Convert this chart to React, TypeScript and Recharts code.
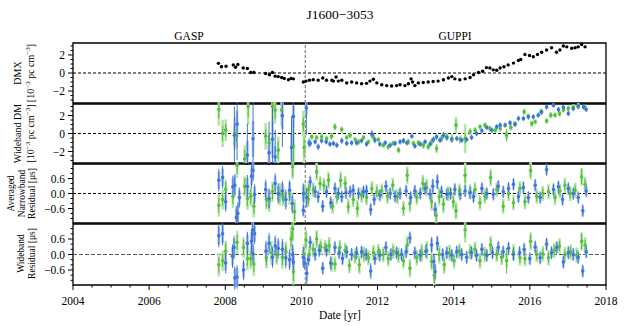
import React from "react";
import { ScatterChart, Scatter, XAxis, YAxis, ErrorBar, ReferenceLine, ReferenceArea } from "recharts";

type Pt = [number, number, number, number];

const FONT = '"Liberation Serif", "Times New Roman", "DejaVu Serif", serif';
const BLUE = "#3d78d8";
const BLUE_PALE = "#a6c0ef";
const BLUE_DARK = "#2f66cc";
const GREEN = "#55c23b";
const GREEN_PALE = "#b2e5a5";
const GREEN_DARK = "#45b530";

const xMajor = [2004, 2006, 2008, 2010, 2012, 2014, 2016, 2018];
const xTicks = [
  2004, 2004.5, 2005, 2005.5, 2006, 2006.5, 2007, 2007.5, 2008, 2008.5, 2009, 2009.5, 2010, 2010.5,
  2011, 2011.5, 2012, 2012.5, 2013, 2013.5, 2014, 2014.5, 2015, 2015.5, 2016, 2016.5, 2017, 2017.5, 2018,
];
const dmTicks = [-3, -2.5, -2, -1.5, -1, -0.5, 0, 0.5, 1, 1.5, 2, 2.5, 3];
const dmMajor = [-2, 0, 2];
const resTicks = [-1, -0.8, -0.6, -0.4, -0.2, 0, 0.2, 0.4, 0.6, 0.8, 1];
const resMajor = [-0.6, 0, 0.6];
const backendSwitch = 2010.1;

// DMX [year, value]
const dmx: [number, number][] = [
  [2007.82, 1.07], [2007.9, 0.7], [2008.02, 0.75], [2008.21, 0.9], [2008.27, 0.63], [2008.33, 0.95],
  [2008.47, 0.55], [2008.58, 0.5], [2008.67, 0.05], [2008.75, 0.05], [2009.06, -0.05], [2009.16, -0.2],
  [2009.24, 0.05], [2009.31, -0.35], [2009.39, -0.4], [2009.48, -0.5], [2009.55, -0.6], [2009.66, -0.75],
  [2009.73, -0.6], [2009.79, -0.65], [2010.05, -1.0], [2010.12, -0.9], [2010.21, -0.8], [2010.31, -0.75],
  [2010.44, -0.8], [2010.56, -0.55], [2010.66, -0.8], [2010.8, -0.8], [2010.84, -0.9], [2010.91, -0.45],
  [2010.97, -0.9], [2011.06, -0.8], [2011.19, -1.1], [2011.32, -1.0], [2011.45, -1.1], [2011.58, -1.2],
  [2011.71, -1.15], [2011.8, -0.9], [2011.89, -0.7], [2011.98, -1.1], [2012.11, -1.3], [2012.24, -1.4],
  [2012.37, -1.45], [2012.5, -1.4], [2012.59, -1.3], [2012.72, -1.4], [2012.81, -1.2], [2012.88, -0.65],
  [2012.92, -1.0], [2012.98, -1.4], [2013.07, -1.1], [2013.2, -1.05], [2013.33, -1.0], [2013.46, -0.95],
  [2013.59, -0.9], [2013.73, -0.75], [2013.86, -0.55], [2013.95, -0.4], [2014.03, -0.65], [2014.16, -0.75],
  [2014.3, -0.65], [2014.43, -0.5], [2014.52, -0.2], [2014.65, 0.05], [2014.76, 0.2], [2014.86, 0.6],
  [2014.95, 0.55], [2015.04, 0.35], [2015.13, 0.3], [2015.22, 0.55], [2015.32, 0.7], [2015.43, 0.9],
  [2015.57, 1.1], [2015.7, 1.4], [2015.76, 1.5], [2015.87, 2.05], [2015.99, 1.95], [2016.09, 1.8],
  [2016.2, 2.05], [2016.31, 2.3], [2016.44, 2.55], [2016.57, 2.8], [2016.7, 2.3], [2016.79, 2.55],
  [2016.88, 3.0], [2016.97, 2.9], [2017.1, 2.75], [2017.19, 2.8], [2017.27, 2.9], [2017.36, 3.15], [2017.45, 2.9],
];

// wideband DM [year, value, pale err, dark err]
const wbDmGreen: Pt[] = [
  [2007.83, 2.67, 1.8, 1.0], [2007.93, 0.0, 1.5, 0.8], [2008.01, 0.37, 1.2, 0.7], [2008.25, 0.0, 1.8, 1.0],
  [2008.29, -0.07, 1.5, 0.9], [2008.51, -2.8, 1.5, 1.0], [2008.6, 3.0, 2.0, 1.2], [2009.06, -0.3, 1.5, 0.8],
  [2009.15, -1.04, 1.2, 0.8], [2009.24, 3.0, 2.0, 1.5], [2009.31, 2.6, 1.5, 1.0], [2009.39, -1.85, 1.5, 1.0],
  [2009.48, 2.6, 1.8, 1.2], [2009.79, -1.4, 2.5, 2.0], [2010.05, 1.04, 1.5, 0.8], [2010.07, -1.55, 1.8, 1.0],
  [2010.27, -0.37, 0.35, 0.25], [2010.4, -0.44, 0.3, 0.2], [2010.53, -0.37, 0.35, 0.25], [2010.66, -0.56, 0.3, 0.2],
  [2010.79, -0.3, 0.4, 0.3], [2010.88, 0.74, 0.4, 0.3], [2011.06, 0.44, 0.35, 0.25], [2011.19, -0.44, 0.3, 0.2],
  [2011.28, -0.19, 0.35, 0.25], [2011.41, -0.67, 0.3, 0.2], [2011.5, -0.93, 0.35, 0.25], [2011.63, -0.44, 0.3, 0.2],
  [2011.76, -0.93, 0.3, 0.2], [2011.89, -0.37, 0.35, 0.25], [2012.02, -0.67, 0.3, 0.2], [2012.15, -1.3, 0.3, 0.2],
  [2012.28, -1.48, 0.35, 0.25], [2012.41, -1.1, 0.3, 0.2], [2012.55, -1.85, 0.35, 0.25], [2012.68, -0.8, 0.3, 0.2],
  [2012.81, -0.93, 0.35, 0.25], [2012.94, -1.1, 0.3, 0.2], [2013.07, -1.04, 0.35, 0.25], [2013.2, -1.3, 0.4, 0.3],
  [2013.33, -1.48, 0.35, 0.25], [2013.42, -0.93, 0.4, 0.3], [2013.55, -1.67, 0.5, 0.35], [2013.68, -0.56, 0.4, 0.3],
  [2013.82, -0.37, 0.45, 0.3], [2013.95, -0.56, 0.5, 0.35], [2014.06, 0.93, 0.9, 0.5], [2014.17, -0.67, 0.45, 0.3],
  [2014.3, -0.56, 1.6, 0.6], [2014.43, 0.19, 0.4, 0.3], [2014.56, 0.37, 0.35, 0.25], [2014.69, 0.74, 0.3, 0.2],
  [2014.82, 0.93, 0.3, 0.2], [2014.95, 0.56, 0.35, 0.25], [2015.09, 0.37, 0.3, 0.2], [2015.22, 0.56, 0.35, 0.25],
  [2015.39, -0.19, 0.45, 0.7], [2015.5, 0.67, 0.35, 0.25], [2015.61, 1.04, 0.3, 0.2], [2015.85, 2.4, 0.35, 0.25],
  [2015.96, 1.93, 0.3, 0.2], [2016.05, 1.1, 0.35, 0.25], [2016.14, 1.3, 0.3, 0.2], [2016.29, 2.4, 0.35, 0.25],
  [2016.44, 1.4, 0.3, 0.2], [2016.55, 2.04, 0.35, 0.25], [2016.66, 2.04, 0.3, 0.2], [2016.78, 2.22, 0.35, 0.25],
  [2016.88, 2.6, 0.3, 0.2], [2017.01, 2.78, 0.35, 0.25], [2017.14, 2.96, 0.3, 0.2], [2017.27, 3.04, 0.35, 0.25],
  [2017.45, 2.9, 0.3, 0.2],
];
const wbDmBlue: Pt[] = [
  [2008.24, -0.2, 1.2, 3.2], [2008.31, 1.04, 1.5, 4.0], [2008.58, -2.4, 1.6, 3.5], [2008.73, -0.6, 2.0, 4.0],
  [2009.15, -2.15, 1.5, 3.5], [2009.24, -0.65, 2.0, 3.5], [2009.31, -2.6, 1.2, 3.0], [2009.5, 2.0, 1.5, 3.5],
  [2009.74, -1.55, 1.5, 3.5], [2009.79, 1.9, 1.2, 3.5], [2010.13, 2.85, 0.8, 3.0], [2010.2, -1.05, 0.3, 0.5],
  [2010.23, -1.1, 0.25, 0.35], [2010.36, -0.93, 0.2, 0.3], [2010.44, -1.48, 0.25, 0.35], [2010.53, -0.8, 0.2, 0.3],
  [2010.65, -0.93, 0.2, 0.3], [2010.75, -1.18, 0.25, 0.3], [2010.84, -1.1, 0.2, 0.3], [2010.93, -1.3, 0.2, 0.3],
  [2011.06, -0.8, 0.25, 0.35], [2011.19, -1.1, 0.2, 0.3], [2011.32, -1.04, 0.2, 0.3], [2011.45, -1.04, 0.25, 0.3],
  [2011.58, -0.8, 0.2, 0.3], [2011.71, -1.18, 0.2, 0.3], [2011.85, -0.07, 0.3, 0.45], [2011.93, -0.74, 0.25, 0.35],
  [2012.06, -1.18, 0.2, 0.3], [2012.2, -1.04, 0.2, 0.3], [2012.33, -1.3, 0.2, 0.3], [2012.46, -1.1, 0.2, 0.3],
  [2012.59, -0.93, 0.2, 0.3], [2012.68, -0.8, 0.2, 0.3], [2012.77, -1.04, 0.2, 0.3], [2012.9, -0.3, 0.2, 0.3],
  [2012.98, -1.4, 0.2, 0.3], [2013.12, -1.18, 0.2, 0.3], [2013.25, -0.93, 0.2, 0.3], [2013.38, -1.18, 0.2, 0.3],
  [2013.47, -0.67, 0.25, 0.35], [2013.55, -0.37, 0.25, 0.35], [2013.64, -0.74, 0.2, 0.3], [2013.73, -0.19, 0.25, 0.35],
  [2013.82, -0.44, 0.2, 0.3], [2013.95, -0.67, 0.2, 0.3], [2014.08, -0.56, 0.2, 0.3], [2014.21, -0.74, 0.2, 0.3],
  [2014.34, -0.67, 0.2, 0.3], [2014.47, -0.44, 0.2, 0.3], [2014.6, 0.0, 0.2, 0.3], [2014.74, 0.3, 0.2, 0.3],
  [2014.87, 0.67, 0.2, 0.3], [2015.0, 0.37, 0.2, 0.3], [2015.13, 0.74, 0.2, 0.3], [2015.22, 0.93, 0.2, 0.3],
  [2015.35, 0.93, 0.2, 0.3], [2015.48, 1.18, 0.2, 0.3], [2015.61, 1.04, 0.2, 0.3], [2015.7, 1.67, 0.2, 0.3],
  [2015.83, 1.67, 0.2, 0.3], [2015.96, 1.85, 0.2, 0.3], [2016.09, 1.85, 0.2, 0.3], [2016.22, 2.04, 0.2, 0.3],
  [2016.31, 2.4, 0.2, 0.3], [2016.44, 2.96, 0.2, 0.3], [2016.62, 3.15, 0.2, 0.3], [2016.75, 2.67, 0.2, 0.3],
  [2016.88, 2.9, 0.2, 0.3], [2017.01, 2.22, 0.2, 0.3], [2017.14, 2.78, 0.2, 0.3], [2017.27, 3.04, 0.2, 0.3],
  [2017.41, 2.96, 0.2, 0.3], [2017.48, 2.67, 0.2, 0.3],
];

// averaged narrowband residuals [year, value, pale err, dark err]
const nbResGreen: Pt[] = [
  [2007.83, -0.47, 0.45, 0.3], [2007.93, -0.24, 0.4, 0.25], [2008.01, 0.16, 0.4, 0.3], [2008.2, -0.13, 0.45, 0.3],
  [2008.31, 1.13, 0.5, 0.35], [2008.51, 0.29, 0.4, 0.3], [2008.58, -0.2, 0.45, 0.3], [2008.67, -0.11, 0.4, 0.3],
  [2008.75, -0.51, 0.45, 0.3], [2009.08, -0.24, 0.4, 0.3], [2009.15, -0.29, 0.45, 0.3], [2009.24, 0.07, 0.4, 0.3],
  [2009.43, -0.03, 0.45, 0.3], [2009.52, -0.11, 0.4, 0.3], [2009.69, 0.0, 0.45, 0.3], [2009.77, 1.07, 0.5, 0.4],
  [2009.82, -0.73, 0.5, 0.35], [2010.07, 0.0, 0.4, 0.3], [2010.19, 0.16, 0.3, 0.2],
  [2010.09, 0.0, 0.3, 0.2], [2010.18, -0.24, 0.3, 0.2], [2010.31, 0.16, 0.3, 0.2], [2010.4, 0.87, 0.35, 0.25],
  [2010.49, 0.4, 0.3, 0.2], [2010.59, 0.33, 0.3, 0.2], [2010.71, 0.53, 0.35, 0.25], [2010.82, -0.51, 0.3, 0.2],
  [2010.93, -0.13, 0.3, 0.2], [2011.03, 0.53, 0.35, 0.25], [2011.15, 0.4, 0.3, 0.2], [2011.23, -0.53, 0.3, 0.2],
  [2011.36, -0.24, 0.3, 0.2], [2011.47, -0.6, 0.35, 0.25], [2011.58, -0.07, 0.3, 0.2], [2011.71, -0.16, 0.3, 0.2],
  [2011.85, 0.2, 0.3, 0.2], [2011.98, 0.07, 0.3, 0.2], [2012.11, 0.1, 0.3, 0.2], [2012.26, -0.11, 0.3, 0.2],
  [2012.4, 0.33, 0.3, 0.2], [2012.52, -0.13, 0.3, 0.2], [2012.68, -0.6, 0.3, 0.2], [2012.78, 0.73, 0.35, 0.25],
  [2012.85, -0.4, 0.35, 0.25], [2013.03, -0.16, 0.3, 0.2], [2013.19, 0.4, 0.35, 0.25], [2013.29, 0.24, 0.35, 0.25],
  [2013.42, -0.33, 0.35, 0.25], [2013.54, -0.87, 0.4, 0.3], [2013.62, -0.13, 0.35, 0.25], [2013.73, -0.43, 0.35, 0.25],
  [2013.86, 0.0, 0.3, 0.2], [2013.99, -0.33, 0.3, 0.2], [2014.06, -0.69, 0.35, 0.25], [2014.15, 0.1, 0.3, 0.2],
  [2014.3, 0.73, 0.5, 0.3], [2014.43, 0.07, 0.3, 0.2], [2014.56, 0.16, 0.3, 0.2], [2014.69, -0.37, 0.3, 0.2],
  [2014.82, -0.11, 0.3, 0.2], [2014.97, 0.64, 0.35, 0.25], [2015.13, 0.16, 0.3, 0.2], [2015.3, -0.51, 0.3, 0.2],
  [2015.44, 0.0, 0.3, 0.2], [2015.57, -0.37, 0.3, 0.2], [2015.74, 0.2, 0.3, 0.2], [2015.87, -0.33, 0.3, 0.2],
  [2016.02, 0.91, 0.35, 0.25], [2016.18, -0.11, 0.3, 0.2], [2016.34, 0.0, 0.3, 0.2], [2016.49, 0.07, 0.3, 0.2],
  [2016.66, -0.16, 0.3, 0.2], [2016.79, 0.1, 0.3, 0.2], [2016.92, 0.33, 0.3, 0.2], [2017.06, 0.0, 0.3, 0.2],
  [2017.19, 0.13, 0.3, 0.2], [2017.36, 0.67, 0.35, 0.3], [2017.45, 0.37, 0.3, 0.2],
];
const nbResBlue: Pt[] = [
  [2007.83, 0.53, 0.35, 0.45], [2007.93, 0.64, 0.35, 0.45], [2008.01, -0.33, 0.3, 0.4], [2008.2, 0.27, 0.35, 0.45],
  [2008.25, 0.33, 0.35, 0.45], [2008.29, -0.96, 0.35, 0.45], [2008.33, -0.8, 0.35, 0.45], [2008.37, -0.16, 0.3, 0.4],
  [2008.58, 0.29, 0.35, 0.45], [2008.69, 0.69, 0.35, 0.45], [2008.73, 0.93, 0.35, 0.45], [2008.77, -0.03, 0.3, 0.4],
  [2009.06, 0.16, 0.3, 0.4], [2009.15, -0.2, 0.3, 0.4], [2009.31, 0.4, 0.3, 0.4], [2009.39, 0.0, 0.3, 0.4],
  [2009.5, 0.1, 0.3, 0.4], [2009.59, -0.24, 0.3, 0.4], [2009.69, 0.13, 0.3, 0.4], [2009.76, -0.4, 0.3, 0.4],
  [2010.05, 0.0, 0.3, 0.4], [2010.14, -0.16, 0.3, 0.4],
  [2010.05, -0.67, 0.2, 0.25], [2010.23, 0.47, 0.2, 0.25], [2010.36, 0.07, 0.2, 0.25], [2010.44, -0.13, 0.2, 0.25],
  [2010.56, -0.51, 0.2, 0.25], [2010.66, 0.07, 0.2, 0.25], [2010.77, -0.37, 0.2, 0.25], [2010.88, 0.2, 0.2, 0.25],
  [2010.97, 0.0, 0.2, 0.25], [2011.06, -0.13, 0.2, 0.25], [2011.17, 0.03, 0.2, 0.25], [2011.28, 0.07, 0.2, 0.25],
  [2011.36, 0.13, 0.2, 0.25], [2011.5, 0.0, 0.2, 0.25], [2011.63, 0.07, 0.2, 0.25], [2011.71, 0.1, 0.2, 0.25],
  [2011.82, -0.64, 0.2, 0.25], [2011.91, -0.24, 0.2, 0.25], [2012.06, -0.07, 0.2, 0.25], [2012.22, 0.29, 0.2, 0.25],
  [2012.33, 0.0, 0.2, 0.25], [2012.46, -0.11, 0.2, 0.25], [2012.59, 0.0, 0.2, 0.25], [2012.75, 0.1, 0.2, 0.25],
  [2012.87, -0.16, 0.2, 0.25], [2012.98, 0.1, 0.2, 0.25], [2013.12, 0.0, 0.2, 0.25], [2013.25, 0.2, 0.2, 0.25],
  [2013.38, -0.03, 0.2, 0.25], [2013.45, 0.29, 0.25, 0.3], [2013.51, -0.64, 0.25, 0.3], [2013.57, 0.47, 0.25, 0.3],
  [2013.68, 0.07, 0.2, 0.25], [2013.82, -0.03, 0.2, 0.25], [2013.92, 0.0, 0.2, 0.25], [2014.03, 0.16, 0.2, 0.25],
  [2014.17, -0.03, 0.2, 0.25], [2014.3, 0.1, 0.2, 0.25], [2014.43, 0.03, 0.2, 0.25], [2014.52, -0.13, 0.2, 0.25],
  [2014.74, 0.2, 0.2, 0.25], [2014.87, 0.0, 0.2, 0.25], [2015.04, -0.03, 0.2, 0.25], [2015.17, 0.29, 0.2, 0.25],
  [2015.3, 0.07, 0.2, 0.25], [2015.44, 0.2, 0.2, 0.25], [2015.57, 0.37, 0.2, 0.25], [2015.7, -0.13, 0.2, 0.25],
  [2015.83, 0.24, 0.2, 0.25], [2015.96, -0.16, 0.2, 0.25], [2016.14, 0.33, 0.2, 0.25], [2016.27, -0.16, 0.2, 0.25],
  [2016.44, 0.96, 0.2, 0.25], [2016.62, 0.16, 0.2, 0.25], [2016.75, 0.27, 0.2, 0.25], [2016.86, -0.24, 0.2, 0.25],
  [2017.01, 0.2, 0.2, 0.25], [2017.14, 0.0, 0.2, 0.25], [2017.27, -0.16, 0.2, 0.25], [2017.39, -0.69, 0.2, 0.25],
  [2017.48, 0.1, 0.2, 0.25],
];

// wideband residuals [year, value, pale err, dark err]
const wbResGreen: Pt[] = [
  [2007.83, -0.4, 0.45, 0.3], [2007.93, -0.24, 0.4, 0.25], [2008.01, 0.13, 0.4, 0.3], [2008.31, 0.47, 0.45, 0.3],
  [2008.48, 0.27, 0.4, 0.3], [2008.58, -0.16, 0.45, 0.3], [2008.67, -0.16, 0.4, 0.3], [2008.75, -0.37, 0.45, 0.3],
  [2009.08, -0.13, 0.4, 0.3], [2009.21, 0.07, 0.45, 0.3], [2009.35, 0.0, 0.4, 0.3], [2009.5, -0.11, 0.45, 0.3],
  [2009.59, 0.1, 0.4, 0.3], [2009.73, 0.6, 0.45, 0.3], [2009.77, 1.0, 0.5, 0.4], [2009.79, -0.67, 0.5, 0.35],
  [2010.07, 0.0, 0.4, 0.3], [2010.12, 0.56, 0.4, 0.3],
  [2010.21, 0.0, 0.3, 0.2], [2010.31, 0.2, 0.3, 0.2], [2010.4, 0.6, 0.35, 0.25], [2010.51, 0.29, 0.3, 0.2],
  [2010.62, 0.27, 0.3, 0.2], [2010.73, 0.33, 0.35, 0.25], [2010.79, -0.37, 0.3, 0.2], [2010.88, -0.37, 0.3, 0.2],
  [2011.01, 0.27, 0.3, 0.2], [2011.15, 0.16, 0.3, 0.2], [2011.26, -0.43, 0.3, 0.2], [2011.41, -0.07, 0.3, 0.2],
  [2011.52, -0.4, 0.35, 0.25], [2011.64, 0.0, 0.3, 0.2], [2011.76, -0.13, 0.3, 0.2], [2011.89, 0.07, 0.3, 0.2],
  [2012.02, 0.1, 0.3, 0.2], [2012.15, 0.0, 0.3, 0.2], [2012.28, -0.16, 0.3, 0.2], [2012.41, 0.13, 0.3, 0.2],
  [2012.55, -0.03, 0.3, 0.2], [2012.68, -0.24, 0.3, 0.2], [2012.78, 0.37, 0.35, 0.25], [2012.85, -0.53, 0.35, 0.25],
  [2013.03, -0.13, 0.3, 0.2], [2013.16, 0.07, 0.35, 0.25], [2013.29, 0.16, 0.35, 0.25], [2013.42, -0.27, 0.35, 0.25],
  [2013.49, -0.8, 0.4, 0.3], [2013.62, 0.0, 0.35, 0.25], [2013.75, -0.4, 0.35, 0.25], [2013.89, 0.07, 0.3, 0.2],
  [2014.01, -0.24, 0.3, 0.2], [2014.15, 0.13, 0.3, 0.2], [2014.3, 0.96, 0.5, 0.3], [2014.43, 0.1, 0.3, 0.2],
  [2014.56, 0.2, 0.3, 0.2], [2014.69, -0.24, 0.3, 0.2], [2014.82, 0.0, 0.3, 0.2], [2014.97, 0.37, 0.35, 0.25],
  [2015.13, 0.0, 0.3, 0.2], [2015.26, -0.11, 0.3, 0.2], [2015.39, -0.24, 0.3, 0.5], [2015.57, 0.1, 0.3, 0.2],
  [2015.74, -0.13, 0.3, 0.2], [2015.87, -0.16, 0.3, 0.2], [2016.02, 0.51, 0.35, 0.25], [2016.18, 0.0, 0.3, 0.2],
  [2016.34, 0.03, 0.3, 0.2], [2016.49, -0.13, 0.3, 0.2], [2016.64, 0.16, 0.3, 0.2], [2016.78, 0.33, 0.3, 0.2],
  [2016.92, 0.0, 0.3, 0.2], [2017.07, 0.1, 0.3, 0.2], [2017.23, -0.03, 0.3, 0.2], [2017.36, 0.51, 0.35, 0.3],
  [2017.45, 0.37, 0.3, 0.2],
];
const wbResBlue: Pt[] = [
  [2007.83, 0.73, 0.35, 0.45], [2007.93, 0.8, 0.35, 0.45], [2008.01, -0.33, 0.3, 0.4], [2008.19, -0.07, 0.35, 0.45],
  [2008.23, 0.27, 0.35, 0.45], [2008.25, -0.91, 0.35, 0.45], [2008.31, -0.87, 0.35, 0.45], [2008.48, -0.6, 0.3, 0.4],
  [2008.58, 0.43, 0.35, 0.45], [2008.69, 0.51, 0.35, 0.45], [2008.72, 0.96, 0.35, 0.45], [2008.73, 0.03, 0.3, 0.4],
  [2008.77, 0.8, 0.3, 0.4], [2009.07, 0.13, 0.3, 0.4], [2009.15, 0.43, 0.3, 0.4], [2009.24, -0.11, 0.3, 0.4],
  [2009.31, 0.33, 0.3, 0.4], [2009.39, 0.24, 0.3, 0.4], [2009.5, 0.2, 0.3, 0.4], [2009.59, -0.13, 0.3, 0.4],
  [2009.69, -0.2, 0.3, 0.4], [2009.77, 0.0, 0.3, 0.4], [2009.79, -0.29, 0.3, 0.4], [2010.05, -0.11, 0.3, 0.4],
  [2010.14, -0.73, 0.3, 0.4],
  [2010.09, -0.33, 0.2, 0.25], [2010.18, -0.2, 0.2, 0.25], [2010.23, 0.47, 0.2, 0.25], [2010.36, 0.0, 0.2, 0.25],
  [2010.47, 0.16, 0.2, 0.25], [2010.56, -0.53, 0.2, 0.25], [2010.66, 0.16, 0.2, 0.25], [2010.77, -0.33, 0.2, 0.25],
  [2010.88, 0.27, 0.2, 0.25], [2010.99, 0.07, 0.2, 0.25], [2011.08, -0.16, 0.2, 0.25], [2011.19, 0.1, 0.2, 0.25],
  [2011.32, 0.0, 0.2, 0.25], [2011.45, 0.07, 0.2, 0.25], [2011.58, 0.1, 0.2, 0.25], [2011.7, 0.0, 0.2, 0.25],
  [2011.82, -0.64, 0.2, 0.3], [2011.93, -0.16, 0.2, 0.25], [2012.06, -0.03, 0.2, 0.25], [2012.22, 0.27, 0.2, 0.25],
  [2012.35, 0.0, 0.2, 0.25], [2012.5, 0.07, 0.2, 0.25], [2012.63, 0.0, 0.2, 0.25], [2012.75, 0.1, 0.2, 0.25],
  [2012.85, 0.64, 0.2, 0.25], [2012.98, 0.07, 0.2, 0.25], [2013.12, -0.03, 0.2, 0.25], [2013.27, 0.13, 0.2, 0.25],
  [2013.42, 0.37, 0.25, 0.3], [2013.48, -0.27, 0.25, 0.3], [2013.51, -0.67, 0.25, 0.3], [2013.57, 0.43, 0.25, 0.3],
  [2013.71, 0.0, 0.2, 0.25], [2013.82, 0.07, 0.2, 0.25], [2013.95, -0.03, 0.2, 0.25], [2014.08, 0.1, 0.2, 0.25],
  [2014.21, 0.0, 0.2, 0.25], [2014.34, -0.11, 0.2, 0.25], [2014.47, 0.07, 0.2, 0.25], [2014.6, -0.03, 0.2, 0.25],
  [2014.74, 0.2, 0.2, 0.25], [2014.87, -0.03, 0.2, 0.25], [2015.02, 0.07, 0.2, 0.25], [2015.17, 0.27, 0.2, 0.25],
  [2015.3, 0.1, 0.2, 0.25], [2015.44, 0.24, 0.2, 0.25], [2015.57, 0.0, 0.2, 0.25], [2015.73, 0.07, 0.2, 0.25],
  [2015.85, 0.2, 0.2, 0.25], [2016.0, -0.16, 0.2, 0.25], [2016.14, 0.29, 0.2, 0.25], [2016.27, -0.13, 0.2, 0.25],
  [2016.44, 0.4, 0.2, 0.25], [2016.57, 0.07, 0.2, 0.25], [2016.71, 0.27, 0.2, 0.25], [2016.88, -0.29, 0.2, 0.25],
  [2017.01, 0.07, 0.2, 0.25], [2017.14, 0.0, 0.2, 0.25], [2017.27, -0.11, 0.2, 0.25], [2017.39, -0.64, 0.2, 0.25],
  [2017.48, 0.1, 0.2, 0.25],
];

const toPts = (arr: Pt[]) => arr.map(([x, y, ep, ed]) => ({ x, y, ep, ed }));
const dmxData = dmx.map(([x, y]) => ({ x, y }));

const minus = (s: string) => s.replace("-", "\u2212");
const fmtDm = (v: number) => minus(String(v));
const fmtRes = (v: number) => minus(v.toFixed(1));

const XTick = (props: any) => {
  const { x, y, payload } = props;
  const major = xMajor.includes(payload.value);
  return (
    <g>
      <line x1={x} x2={x} y1={y} y2={y + (major ? 5 : 2.5)} stroke="#000" strokeWidth={1} />
      {major && (
        <text x={x} y={y + 20} textAnchor="middle" fontSize={11.5} style={{ fontFamily: FONT }} fill="#000">
          {payload.value}
        </text>
      )}
    </g>
  );
};

const makeYTick = (majors: number[], fmt: (v: number) => string) => (props: any) => {
  const { x, y, payload } = props;
  const major = majors.some((m) => Math.abs(m - payload.value) < 1e-6);
  return (
    <g>
      <line x1={x} x2={x - (major ? 5 : 2.5)} y1={y} y2={y} stroke="#000" strokeWidth={1} />
      {major && (
        <text x={x - 8} y={y} dy="0.35em" textAnchor="end" fontSize={11.5} style={{ fontFamily: FONT }} fill="#000">
          {fmt(payload.value)}
        </text>
      )}
    </g>
  );
};

const dot = (color: string, r = 1.8) => (p: any) => <circle cx={p.cx} cy={p.cy} r={r} fill={color} />;

interface PanelProps {
  top: number;
  h: number;
  domain: [number, number];
  ticks: number[];
  majors: number[];
  fmt: (v: number) => string;
  last?: boolean;
  zeroColor?: string;
  zeroDash?: string;
  children: React.ReactNode;
}

function Panel({ top, h, domain, ticks, majors, fmt, last, zeroColor = "#000", zeroDash = "3 2", children }: PanelProps) {
  const axisH = last ? 34 : 0;
  return (
    <div style={{ position: "absolute", left: 0, top: top - 2 }}>
      <ScatterChart width={625} height={h + 4 + axisH} margin={{ top: 2, right: 19, bottom: last ? 0 : 2, left: 0 }}>
        <XAxis
          type="number" dataKey="x" domain={[2004, 2018]} ticks={xTicks} interval={0}
          allowDataOverflow hide={!last} height={axisH}
          axisLine={false} tickLine={false} tickSize={0} tickMargin={0} tick={<XTick />}
        />
        <YAxis
          type="number" dataKey="y" domain={domain} ticks={ticks} interval={0}
          allowDataOverflow width={73}
          axisLine={false} tickLine={false} tickSize={0} tickMargin={0} tick={makeYTick(majors, fmt)}
        />
        <ReferenceLine y={0} stroke={zeroColor} strokeDasharray={zeroDash} strokeWidth={1} />
        <ReferenceLine x={backendSwitch} stroke="#666" strokeDasharray="3 2" strokeWidth={1} />
        {children}
        <ReferenceArea
          x1={2004} x2={2018} y1={domain[0]} y2={domain[1]}
          fill="none" fillOpacity={0} stroke="#000" strokeWidth={1.3} ifOverflow="visible"
        />
      </ScatterChart>
    </div>
  );
}

const errSeries = (pts: Pt[], color: string, pale: string, dark: string, name: string) => (
  <Scatter key={name} name={name} data={toPts(pts)} shape={dot(color)} isAnimationActive={false}>
    <ErrorBar dataKey="ep" direction="y" width={0} stroke={pale} strokeWidth={2.6} />
    <ErrorBar dataKey="ed" direction="y" width={0} stroke={dark} strokeWidth={0.9} />
  </Scatter>
);

export default function App() {
  return (
    <div style={{ position: "fixed", left: 0, top: 0, width: 625, height: 326, background: "#fff", fontFamily: FONT }}>
      <Panel top={43} h={60} domain={[-3.33, 3.33]} ticks={dmTicks} majors={dmMajor} fmt={fmtDm}>
        <Scatter data={dmxData} shape={dot("#000", 1.7)} isAnimationActive={false} />
      </Panel>
      <Panel top={104} h={59} domain={[-3.28, 3.28]} ticks={dmTicks} majors={dmMajor} fmt={fmtDm}>
        {errSeries(wbDmGreen, GREEN, GREEN_PALE, GREEN_DARK, "g2")}
        {errSeries(wbDmBlue, BLUE, BLUE_PALE, BLUE_DARK, "b2")}
      </Panel>
      <Panel top={164} h={59} domain={[-1.18, 1.18]} ticks={resTicks} majors={resMajor} fmt={fmtRes}>
        {errSeries(nbResGreen, GREEN, GREEN_PALE, GREEN_DARK, "g3")}
        {errSeries(nbResBlue, BLUE, BLUE_PALE, BLUE_DARK, "b3")}
      </Panel>
      <Panel top={224} h={59} domain={[-1.18, 1.18]} ticks={resTicks} majors={resMajor} fmt={fmtRes} last zeroColor="#555" zeroDash="4 2">
        {errSeries(wbResGreen, GREEN, GREEN_PALE, GREEN_DARK, "g4")}
        {errSeries(wbResBlue, BLUE, BLUE_PALE, BLUE_DARK, "b4")}
      </Panel>
      <svg width={625} height={326} style={{ position: "absolute", left: 0, top: 0, pointerEvents: "none", fontFamily: FONT }} fill="#000">
        <text x={340} y={19} textAnchor="middle" fontSize={13.5}>J1600{"\u2212"}3053</text>
        <text x={189} y={40} textAnchor="middle" fontSize={11.5}>GASP</text>
        <text x={455} y={40} textAnchor="middle" fontSize={11.5}>GUPPI</text>
        <text x={340} y={319} textAnchor="middle" fontSize={11.5}>Date [yr]</text>
        <g fontSize={10} textAnchor="middle">
          <text transform="translate(17,73) rotate(-90)" dy="0.35em">DMX</text>
          <text transform="translate(30,73) rotate(-90)" dy="0.35em">
            [10<tspan fontSize={7} dy={-4}>{"\u2212"}3</tspan><tspan dy={4}> pc cm</tspan><tspan fontSize={7} dy={-4}>{"\u2212"}3</tspan><tspan dy={4}>]</tspan>
          </text>
          <text transform="translate(17,133.5) rotate(-90)" dy="0.35em">Wideband DM</text>
          <text transform="translate(30,133.5) rotate(-90)" dy="0.35em">
            [10<tspan fontSize={7} dy={-4}>{"\u2212"}3</tspan><tspan dy={4}> pc cm</tspan><tspan fontSize={7} dy={-4}>{"\u2212"}3</tspan><tspan dy={4}>]</tspan>
          </text>
        </g>
        <g fontSize={9.5} textAnchor="middle">
          <text transform="translate(11,193.5) rotate(-90)" dy="0.35em">Averaged</text>
          <text transform="translate(21.5,193.5) rotate(-90)" dy="0.35em">Narrowband</text>
          <text transform="translate(32,193.5) rotate(-90)" dy="0.35em">Residual [{"\u03bc"}s]</text>
          <text transform="translate(21,253.5) rotate(-90)" dy="0.35em">Wideband</text>
          <text transform="translate(32,253.5) rotate(-90)" dy="0.35em">Residual [{"\u03bc"}s]</text>
        </g>
      </svg>
    </div>
  );
}
